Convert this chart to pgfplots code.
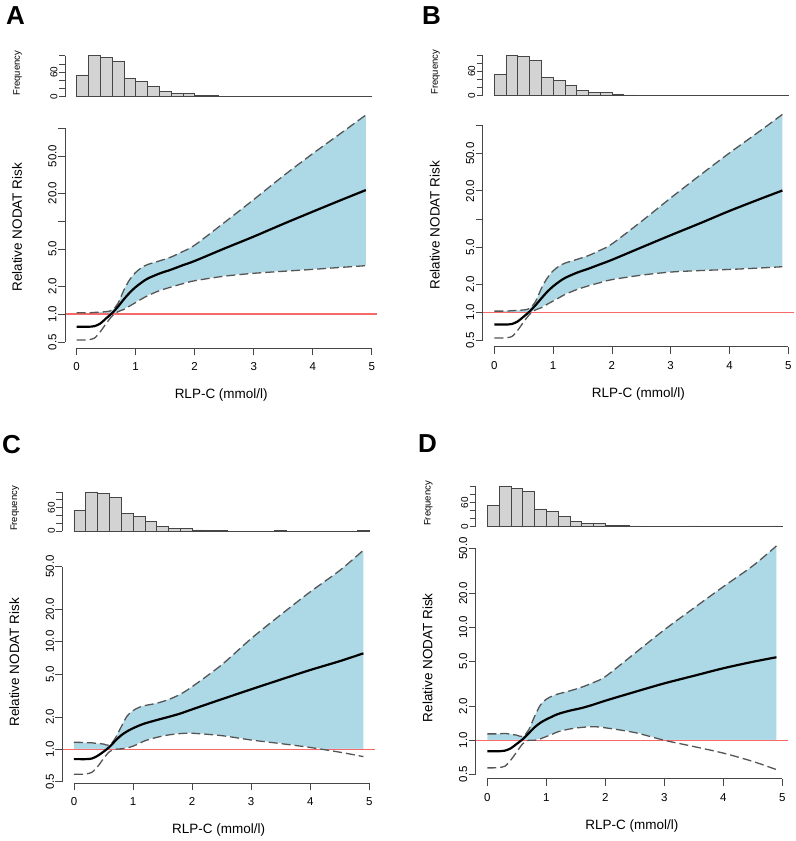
\documentclass[border=0pt]{standalone}
\usepackage{pgfplots}
\pgfplotsset{compat=1.18}
\usepackage{pgfplotstable}
\usepackage{fontspec}
\setmainfont{Liberation Sans}

\definecolor{band}{RGB}{173,216,230}
\definecolor{refred}{RGB}{245,105,105}
\definecolor{axgray}{RGB}{70,70,70}
\definecolor{dashgray}{RGB}{85,85,85}
\definecolor{barfill}{RGB}{211,211,211}

% spline estimate with 95% CI, one table per panel
\pgfplotstableread{
x    est   lo    hi
0    0.73  0.525 1.03
0.1  0.73  0.525 1.03
0.2  0.73  0.53  1.03
0.3  0.74  0.55  1.04
0.4  0.79  0.645 1.05
0.5  0.90  0.79  1.06
0.6  1.02  0.95  1.10
0.7  1.20  1.06  1.30
0.8  1.44  1.12  1.81
0.9  1.70  1.22  2.35
1.0  1.95  1.33  2.80
1.1  2.18  1.45  3.15
1.2  2.40  1.57  3.40
1.4  2.72  1.78  3.72
1.6  3.00  1.95  4.10
1.8  3.35  2.12  4.70
2.0  3.72  2.28  5.50
2.5  5.05  2.55  9.60
3.0  6.80  2.74  17.0
3.5  9.30  2.88  30.5
4.0  12.6  3.02  53
4.5  17.0  3.18  90
4.9  21.5  3.31  138
}\tabA
\pgfplotstableread{
x    est   lo    hi
0    0.74  0.53  1.03
0.1  0.74  0.53  1.03
0.2  0.74  0.535 1.03
0.3  0.75  0.55  1.04
0.4  0.80  0.645 1.05
0.5  0.90  0.79  1.06
0.6  1.02  0.95  1.10
0.7  1.19  1.06  1.30
0.8  1.41  1.12  1.80
0.9  1.66  1.22  2.33
1.0  1.90  1.32  2.78
1.1  2.12  1.43  3.12
1.2  2.33  1.55  3.36
1.4  2.65  1.75  3.68
1.6  2.93  1.92  4.05
1.8  3.27  2.08  4.62
2.0  3.65  2.24  5.40
2.5  4.95  2.50  9.40
3.0  6.70  2.70  16.8
3.5  9.00  2.80  29.5
4.0  12.2  2.88  51
4.5  16.2  2.98  86
4.9  20.2  3.08  132
}\tabB
\pgfplotstableread{
x    est   lo    hi
0    0.81  0.586 1.16
0.1  0.81  0.586 1.16
0.2  0.81  0.59  1.15
0.3  0.82  0.61  1.15
0.4  0.87  0.69  1.13
0.5  0.95  0.82  1.12
0.6  1.05  0.95  1.09
0.7  1.20  1.00  1.27
0.8  1.35  1.01  1.62
0.9  1.47  1.03  2.04
1.0  1.57  1.07  2.29
1.1  1.66  1.13  2.45
1.2  1.74  1.20  2.55
1.4  1.87  1.29  2.68
1.6  2.00  1.36  2.90
1.8  2.15  1.40  3.25
2.0  2.35  1.41  3.82
2.5  2.92  1.34  6.10
3.0  3.61  1.22  10.7
3.5  4.45  1.13  17.8
4.0  5.46  1.04  29.1
4.5  6.60  0.94  46
4.9  7.80  0.855 71
}\tabC
\pgfplotstableread{
x    est   lo    hi
0    0.80  0.57  1.14
0.1  0.80  0.57  1.14
0.2  0.80  0.575 1.14
0.3  0.81  0.59  1.15
0.4  0.85  0.67  1.13
0.5  0.93  0.79  1.11
0.6  1.02  0.93  1.08
0.7  1.15  1.00  1.23
0.8  1.30  1.00  1.62
0.9  1.43  1.03  2.05
1.0  1.53  1.08  2.31
1.1  1.62  1.13  2.46
1.2  1.71  1.19  2.57
1.4  1.83  1.26  2.74
1.6  1.93  1.30  2.95
1.8  2.07  1.32  3.25
2.0  2.24  1.29  3.66
2.5  2.68  1.17  5.89
3.0  3.19  1.00  9.50
3.5  3.72  0.88  14.8
4.0  4.34  0.77  22.9
4.5  4.95  0.65  35
4.9  5.43  0.55  52.5
}\tabD
% histogram of RLP-C, bins of 0.2 (left edges, last row closes the interval)
\pgfplotstableread{
x   n
0   53
0.2 100
0.4 96
0.6 87
0.8 44
1.0 38
1.2 25
1.4 12
1.6 7
1.8 7
2.0 3
2.2 2
2.4 1
2.6 0
2.8 0
3.0 0
3.2 0
3.4 1
3.6 0
3.8 0
4.0 0
4.2 0
4.4 0
4.6 0
4.8 1
5.0 0
}\tabHist

\pgfplotsset{
  rbase/.style={
    scale only axis, anchor=south west, clip=false,
    axis lines*=left, axis line style={draw=none},
    tick align=outside,
    tick style={axgray, line width=0.8bp},
    xmin=-0.196, xmax=5.096,
    minor tick num=0,
  },
  riskaxis/.style={
    rbase, yminorticks=false,
    major tick length=7bp,
    xtick={0,1,2,3,4,5}, xticklabels={0,1,2,3,4,5},
    tick label style={font=\fontsize{11.5bp}{13bp}\selectfont},
    xticklabel style={yshift=-4bp},
    yticklabel style={rotate=90, anchor=south, yshift=-2bp},
    xlabel={RLP-C (mmol/l)},
    ylabel={Relative NODAT Risk},
    label style={font=\fontsize{13.5bp}{15bp}\selectfont},
    x label style={at={(axis description cs:0.5,0)}, anchor=center, yshift=-47bp},
    y label style={at={(axis description cs:-0.154,0.5)}, anchor=center},
  },
  histaxis/.style={
    rbase, hide x axis,
    major tick length=6bp,
    ymin=-4, ymax=104,
    ytick={0,20,40,60,80,100}, yticklabels={0,,,60,,},
    tick label style={font=\fontsize{10bp}{12bp}\selectfont},
    yticklabel style={rotate=90, anchor=south, yshift=-2bp},
    ylabel={Frequency},
    label style={font=\fontsize{9.5bp}{11bp}\selectfont},
    y label style={at={(axis description cs:-0.152,0.57)}, anchor=center},
  },
}

% band: fill under the upper limit, then blank out under the lower limit
\newcommand{\riskplots}[1]{%
  \addplot[fill=band, draw=none, smooth] table[x=x, y=hi]{#1} \closedcycle;
  \addplot[fill=white, draw=white, line width=0.6bp, smooth] table[x=x, y=lo]{#1} \closedcycle;
  \addplot[refred, line width=1.3bp] coordinates {(-0.196,1) (5.096,1)};
  \addplot[dashgray, line width=1.3bp, dash pattern=on 9bp off 4bp, smooth] table[x=x, y=hi]{#1};
  \addplot[dashgray, line width=1.3bp, dash pattern=on 9bp off 4bp, smooth] table[x=x, y=lo]{#1};
  \addplot[black, line width=2.2bp, smooth] table[x=x, y=est]{#1};
  \draw[axgray, line width=0.8bp] ({axis cs:0,1} |- {rel axis cs:0,0}) -- ({axis cs:5,1} |- {rel axis cs:0,0});
}
\newcommand{\histplot}{%
  \addplot[ybar interval, fill=barfill, draw=axgray, line width=0.7bp] table[x=x, y=n]{\tabHist};
  \draw[axgray, line width=0.8bp] ({rel axis cs:0,0} |- {axis cs:0,0}) -- ({rel axis cs:0,0} |- {axis cs:0,100});
}

\begin{document}
\begin{tikzpicture}
\useasboundingbox (0,0) rectangle (796bp,841bp);

% ---- A ----
\begin{axis}[histaxis, at={(65.1bp,742.7bp)}, width=312.3bp, height=44.2bp]
  \histplot
\end{axis}
\begin{axis}[ymode=log, riskaxis, at={(65.1bp,492.7bp)}, width=312.3bp, height=242.2bp,
    ymin=0.428, ymax=172,
    ytick={0.5,1,2,5,10,20,50,100}, yticklabels={0.5,1.0,2.0,5.0,,20.0,50.0,}]
  \riskplots{\tabA}
  \draw[axgray, line width=0.8bp] ({rel axis cs:0,0} |- {axis cs:0,0.5}) -- ({rel axis cs:0,0} |- {axis cs:0,100});
\end{axis}

% ---- B ----
\begin{axis}[histaxis, at={(482.8bp,743.7bp)}, width=311.1bp, height=43.9bp]
  \histplot
\end{axis}
\begin{axis}[ymode=log, riskaxis, at={(482.8bp,494.3bp)}, width=311.1bp, height=243bp,
    ymin=0.428, ymax=172,
    ytick={0.5,1,2,5,10,20,50,100}, yticklabels={0.5,1.0,2.0,5.0,,20.0,50.0,}]
  \riskplots{\tabB}
  \draw[axgray, line width=0.8bp] ({rel axis cs:0,0} |- {axis cs:0,0.5}) -- ({rel axis cs:0,0} |- {axis cs:0,100});
\end{axis}

% ---- C ----
\begin{axis}[histaxis, at={(62.4bp,308.4bp)}, width=312.6bp, height=42.2bp]
  \histplot
\end{axis}
\begin{axis}[ymode=log, riskaxis, at={(62.4bp,57.8bp)}, width=312.6bp, height=242bp,
    ymin=0.484, ymax=86,
    ytick={0.5,1,2,5,10,20,50}, yticklabels={0.5,1.0,2.0,5.0,10.0,20.0,50.0}]
  \riskplots{\tabC}
  \draw[axgray, line width=0.8bp] ({rel axis cs:0,0} |- {axis cs:0,0.5}) -- ({rel axis cs:0,0} |- {axis cs:0,50});
\end{axis}

% ---- D ----
\begin{axis}[histaxis, at={(475.7bp,313.1bp)}, width=312.3bp, height=42.8bp]
  \histplot
\end{axis}
\begin{axis}[ymode=log, riskaxis, at={(475.7bp,62.4bp)}, width=312.3bp, height=241.6bp,
    ymin=0.458, ymax=63,
    ytick={0.5,1,2,5,10,20,50}, yticklabels={0.5,1.0,2.0,5.0,10.0,20.0,50.0}]
  \riskplots{\tabD}
  \draw[axgray, line width=0.8bp] ({rel axis cs:0,0} |- {axis cs:0,0.5}) -- ({rel axis cs:0,0} |- {axis cs:0,50});
\end{axis}

% panel letters
\begin{scope}[every node/.style={anchor=base west, inner sep=0pt, font=\fontsize{26bp}{28bp}\selectfont\bfseries}]
  \node at (6bp,816bp) {A};
  \node at (422bp,816bp) {B};
  \node at (2bp,387bp) {C};
  \node at (418bp,388bp) {D};
\end{scope}
\end{tikzpicture}
\end{document}
